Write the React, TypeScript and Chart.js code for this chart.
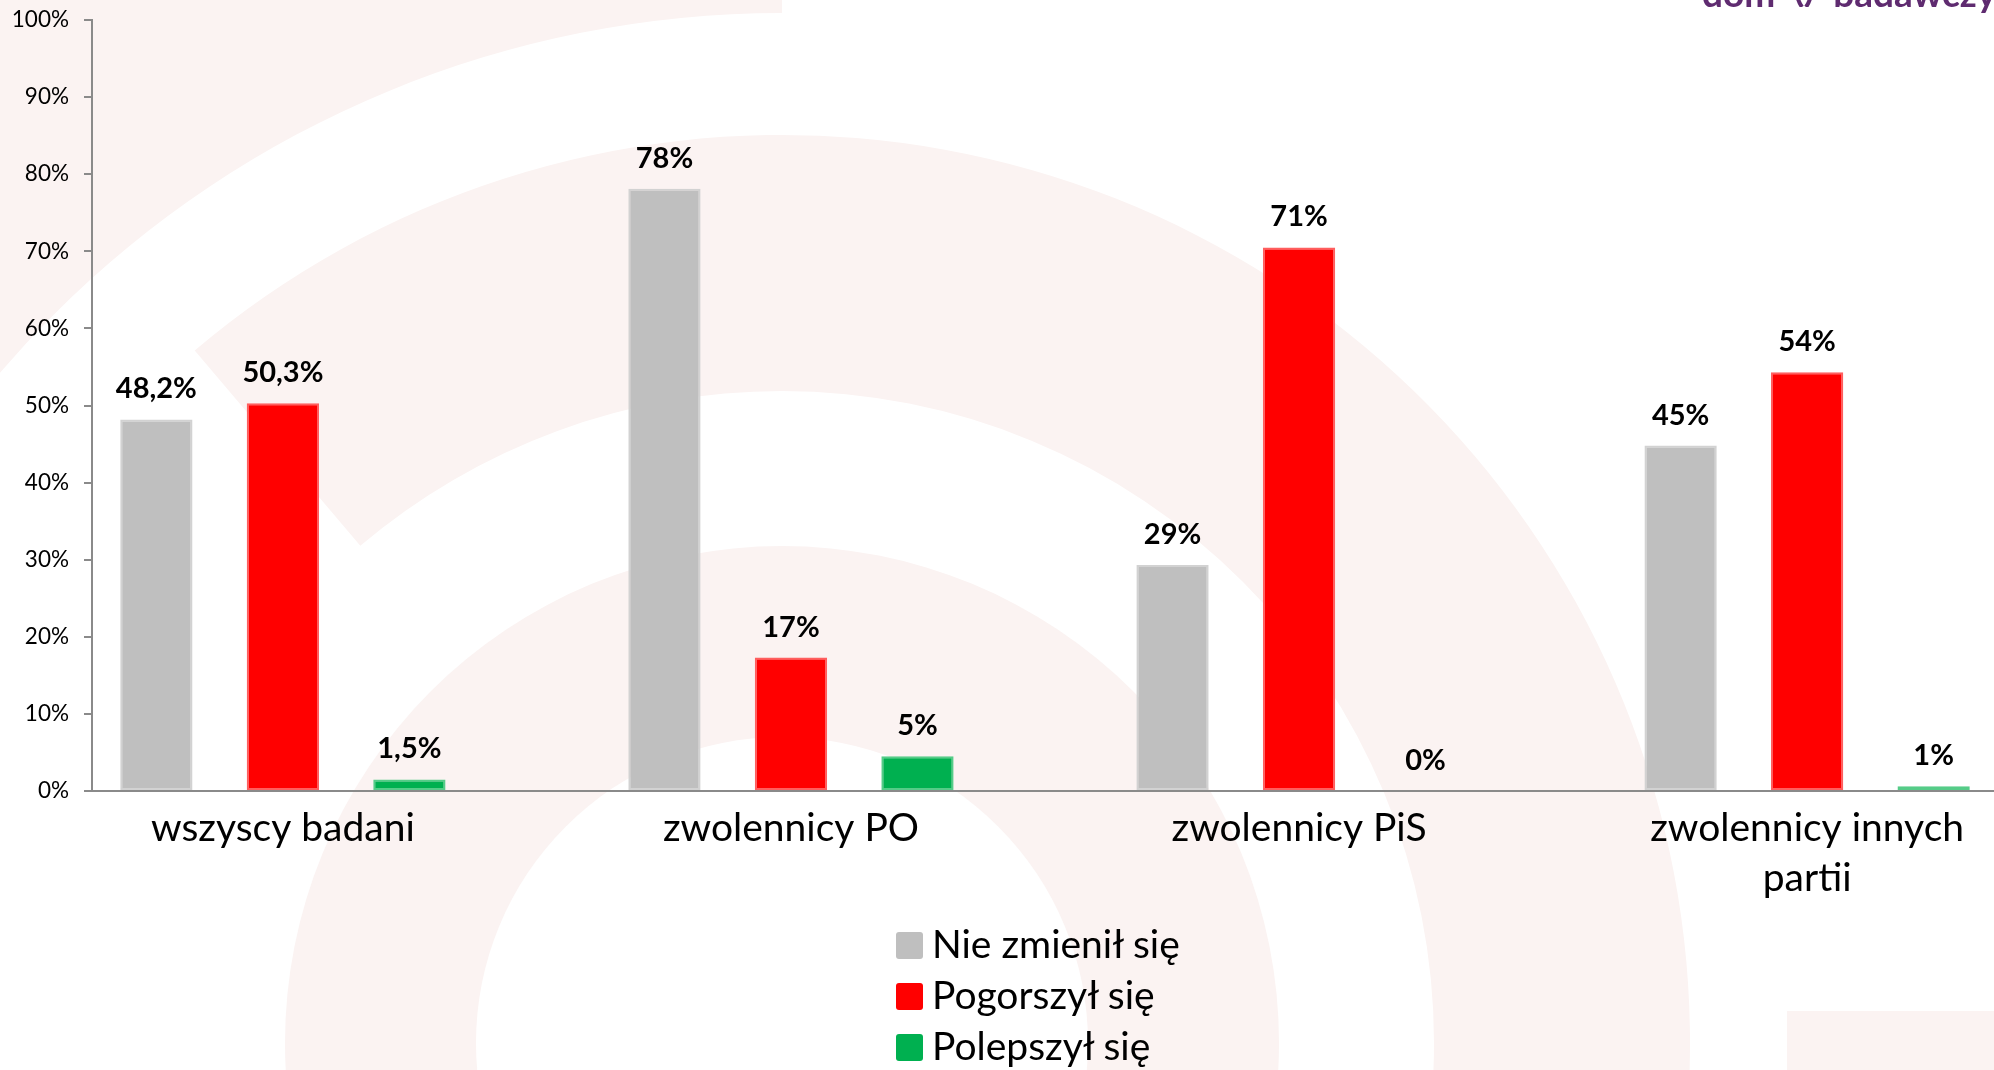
import React, { useEffect, useRef } from 'react';
import { Chart, registerables } from 'chart.js';

Chart.register(...registerables);

// ---- data ----
const categories: string[] = ['wszyscy badani', 'zwolennicy PO', 'zwolennicy PiS', 'zwolennicy innych\npartii'];
const seriesNames: string[] = ['Nie zmienił się', 'Pogorszył się', 'Polepszył się'];
const nieZmienilSie: number[] = [48.2, 78.1, 29.3, 44.8];
const pogorszylSie: number[] = [50.3, 17.3, 70.5, 54.3];
const polepszylSie: number[] = [1.5, 4.5, 0, 0.6];
const labelDecimals: number[] = [1, 0, 0, 0];
const yTickValues: number[] = [0, 10, 20, 30, 40, 50, 60, 70, 80, 90, 100];

// ---- styles ----
const seriesFill = ['#BFBFBF', '#FF0000', '#00B050'];
const seriesEdge = ['#D2D2D2', '#FF5E5E', '#55CC88'];
const axisColor = '#8A8A8A';
const bgTint = '#FBF3F2';
const FONT = 'Lato, "Open Sans", sans-serif';

const W = 1994;
const H = 1070;

const backgroundPlugin = {
  id: 'bgArcs',
  beforeDraw(chart: any) {
    const ctx = chart.ctx;
    const cx = 782;
    const cy = 1043;
    const deg = Math.PI / 180;
    const ring = (r0: number, r1: number, a0: number, a1: number) => {
      ctx.beginPath();
      ctx.arc(cx, cy, r1, a0, a1, false);
      ctx.arc(cx, cy, r0, a1, a0, true);
      ctx.closePath();
      ctx.fill();
    };
    ctx.save();
    ctx.fillStyle = '#FFFFFF';
    ctx.fillRect(0, 0, chart.width, chart.height);
    ctx.fillStyle = bgTint;
    ring(1030, 1600, 180 * deg, 270 * deg);
    ring(652, 908, 229.7 * deg, 450 * deg);
    ring(306, 497, 0, 360 * deg);
    ctx.fillRect(1787, 1011, 300, 100);
    ctx.restore();
  },
};

const valueLabelPlugin = {
  id: 'valueLabels',
  afterDatasetsDraw(chart: any) {
    const ctx = chart.ctx;
    ctx.save();
    ctx.font = `bold 29px ${FONT}`;
    ctx.fillStyle = '#000000';
    ctx.textAlign = 'center';
    ctx.textBaseline = 'alphabetic';
    chart.data.datasets.forEach((ds: any, di: number) => {
      const meta = chart.getDatasetMeta(di);
      meta.data.forEach((el: any, i: number) => {
        const v = ds.data[i].y;
        const txt = v.toFixed(labelDecimals[i]).replace('.', ',') + '%';
        ctx.fillText(txt, el.x, el.y - 21);
      });
    });
    ctx.restore();
  },
};

export default function App() {
  const canvasRef = useRef<HTMLCanvasElement | null>(null);

  useEffect(() => {
    if (!canvasRef.current) return;
    const series = [nieZmienilSie, pogorszylSie, polepszylSie];
    const chart = new Chart(canvasRef.current, {
      type: 'bar',
      data: {
        datasets: series.map((vals, si) => ({
          label: seriesNames[si],
          data: vals.map((v, i) => ({ x: i, y: v })),
          backgroundColor: seriesFill[si],
          borderColor: seriesEdge[si],
          borderWidth: 2,
          borderSkipped: false,
          categoryPercentage: 0.747,
          barPercentage: 0.5715,
        })),
      },
      options: {
        animation: false,
        responsive: true,
        maintainAspectRatio: false,
        layout: { padding: { top: 20, left: 0, right: 0, bottom: 0 } },
        plugins: {
          legend: { display: false },
          tooltip: { enabled: false },
        },
        scales: {
          x: {
            type: 'linear',
            bounds: 'data',
            offset: false,
            min: -0.3757,
            max: 3.3678,
            afterBuildTicks: (s: any) => {
              s.ticks = categories.map((_, i) => ({ value: i }));
            },
            afterFit: (s: any) => {
              s.height = H - 791;
              s.paddingLeft = 0;
              s.paddingRight = 0;
            },
            ticks: {
              autoSkip: false,
              maxRotation: 0,
              minRotation: 0,
              includeBounds: false,
              padding: 12,
              color: '#000000',
              font: { family: FONT, size: 39, lineHeight: 1.29 },
              callback: (v: any) => categories[Math.round(Number(v))].split('\n'),
            },
            grid: { display: false, drawTicks: false, offset: false },
            border: { display: true, color: axisColor, width: 2 },
          },
          y: {
            min: 0,
            max: 100,
            afterBuildTicks: (s: any) => {
              s.ticks = yTickValues.map((v) => ({ value: v }));
            },
            afterFit: (s: any) => {
              s.width = 92;
              s.paddingTop = 0;
              s.paddingBottom = 0;
            },
            ticks: {
              padding: 15,
              color: '#000000',
              font: { family: FONT, size: 22.5 },
              callback: (v: any) => v + '%',
            },
            grid: { drawOnChartArea: false, drawTicks: true, tickLength: 8, color: axisColor, lineWidth: 2 },
            border: { display: true, color: axisColor, width: 2 },
          },
        },
      } as any,
      plugins: [backgroundPlugin, valueLabelPlugin],
    });
    return () => chart.destroy();
  }, []);

  return (
    <div style={{ position: 'fixed', left: 0, top: 0, width: W, height: H, overflow: 'hidden', background: '#fff' }}>
      <canvas ref={canvasRef} style={{ position: 'absolute', left: 0, top: 0, width: W, height: H }} />
      <div
        style={{
          position: 'absolute',
          left: 1702,
          top: -27,
          fontFamily: FONT,
          fontWeight: 700,
          fontSize: 37,
          lineHeight: '37px',
          color: '#5F2B70',
          whiteSpace: 'nowrap',
        }}
      >
        <span>dom</span>
        <span style={{ display: 'inline-block', width: 58, textAlign: 'center' }}>
          <svg width="22" height="34" viewBox="0 0 22 34" style={{ verticalAlign: 'baseline' }}>
            <path d="M9 0 C2 10 2 24 9 34" stroke="#5F2B70" strokeWidth="4" fill="none" />
            <path d="M13 0 C20 10 20 24 13 34" stroke="#5F2B70" strokeWidth="4" fill="none" />
          </svg>
        </span>
        <span>badawczy</span>
      </div>
      <div style={{ position: 'absolute', left: 896, top: 920, fontFamily: FONT }}>
        {seriesNames.map((name, i) => (
          <div key={name} style={{ display: 'flex', alignItems: 'center', height: 51 }}>
            <span
              style={{
                display: 'inline-block',
                width: 27,
                height: 27,
                borderRadius: 3,
                background: seriesFill[i],
                marginRight: 9,
              }}
            />
            <span
              style={{
                fontSize: 39,
                color: '#000',
                whiteSpace: 'nowrap',
                lineHeight: '51px',
                position: 'relative',
                top: -2,
              }}
            >
              {name}
            </span>
          </div>
        ))}
      </div>
    </div>
  );
}
